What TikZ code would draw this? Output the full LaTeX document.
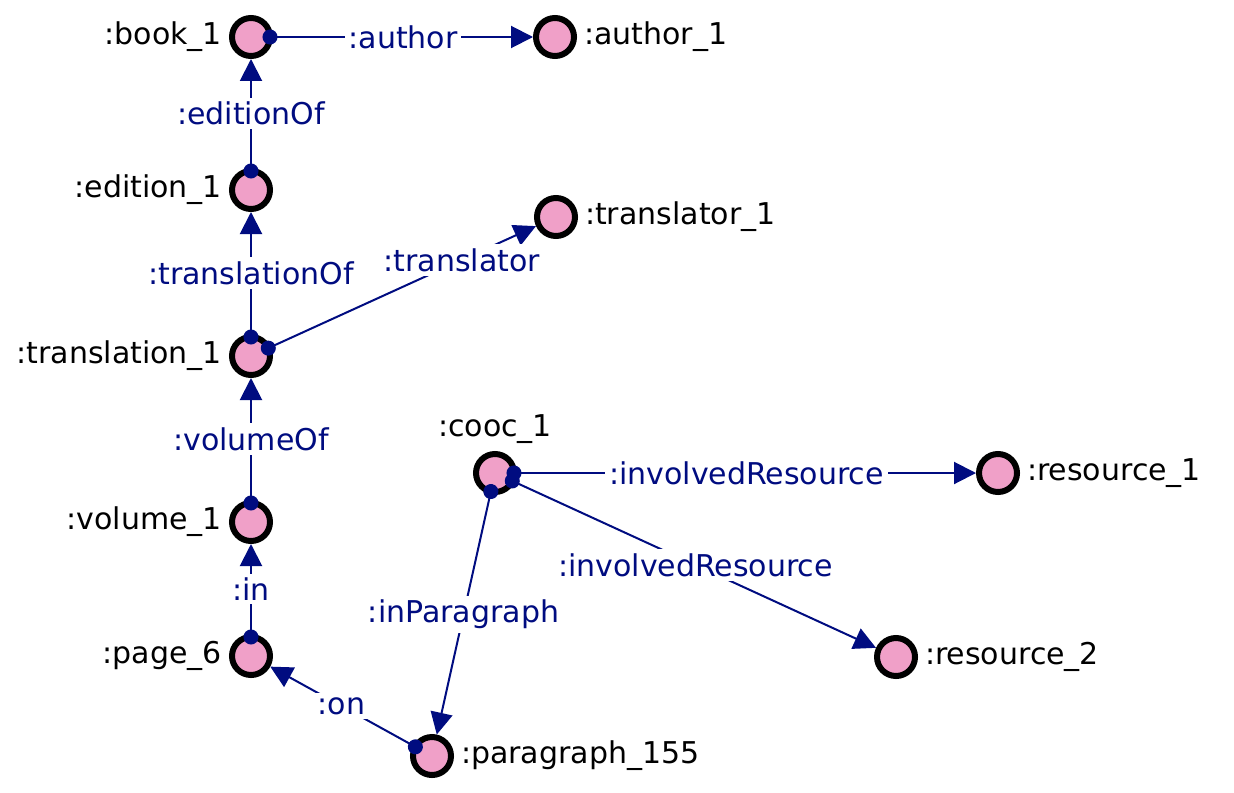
\documentclass[tikz,border=0pt]{standalone}
\usepackage{fontspec}
\setmainfont{DejaVu Sans}
\usetikzlibrary{arrows.meta}
\definecolor{nodepink}{HTML}{F0A0C8}
\definecolor{edgenavy}{HTML}{000C80}

\begin{document}
\begin{tikzpicture}[x=0.5pt, y=-0.5pt,
    every node/.style={font=\fontsize{15}{18}\selectfont},
    res/.style={circle, draw=black, line width=3pt, fill=nodepink, minimum size=19pt, inner sep=0pt},
    every label/.style={text=black, label distance=0pt},
    rel/.style={draw=edgenavy, line width=1pt, {Circle[length=7.5pt]}-{Triangle[length=11pt, width=11pt]}, shorten <=-5.25pt},
    rellabel/.style={fill=white, text=edgenavy, inner sep=2pt}]
  \useasboundingbox (0,0) rectangle (1234,792);

  % Resources
  \node[res, label={left:{:book\_1}}] (book1) at (251,37) {};
  \node[res, label={right:{:author\_1}}] (author1) at (555,37) {};
  \node[res, label={left:{:edition\_1}}] (edition1) at (251,190) {};
  \node[res, label={right:{:translator\_1}}] (translator1) at (556,217) {};
  \node[res, label={left:{:translation\_1}}] (translation1) at (251,356) {};
  \node[res, label={left:{:volume\_1}}] (volume1) at (251,522) {};
  \node[res, label={left:{:page\_6}}] (page6) at (251,656) {};
  \node[res, label={right:{:paragraph\_155}}] (para155) at (432,756) {};
  \node[res, label={above:{:cooc\_1}}] (cooc1) at (495,473) {};
  \node[res, label={right:{:resource\_1}}] (resource1) at (998,473) {};
  \node[res, label={right:{:resource\_2}}] (resource2) at (896,657) {};

  % Properties
  \draw[rel] (book1) -- node[rellabel] {:author} (author1);
  \draw[rel] (edition1) -- node[rellabel] {:editionOf} (book1);
  \draw[rel] (translation1) -- node[rellabel] {:translationOf} (edition1);
  \draw[rel] (translation1) -- node[rellabel, pos=0.72] {:translator} (translator1);
  \draw[rel] (volume1) -- node[rellabel] {:volumeOf} (translation1);
  \draw[rel] (page6) -- node[rellabel] {:in} (volume1);
  \draw[rel] (para155) -- node[rellabel] {:on} (page6);
  \draw[rel] (cooc1) -- node[rellabel] {:involvedResource} (resource1);
  \draw[rel] (cooc1) -- node[rellabel] {:involvedResource} (resource2);
  \draw[rel] (cooc1) -- node[rellabel] {:inParagraph} (para155);
\end{tikzpicture}
\end{document}
